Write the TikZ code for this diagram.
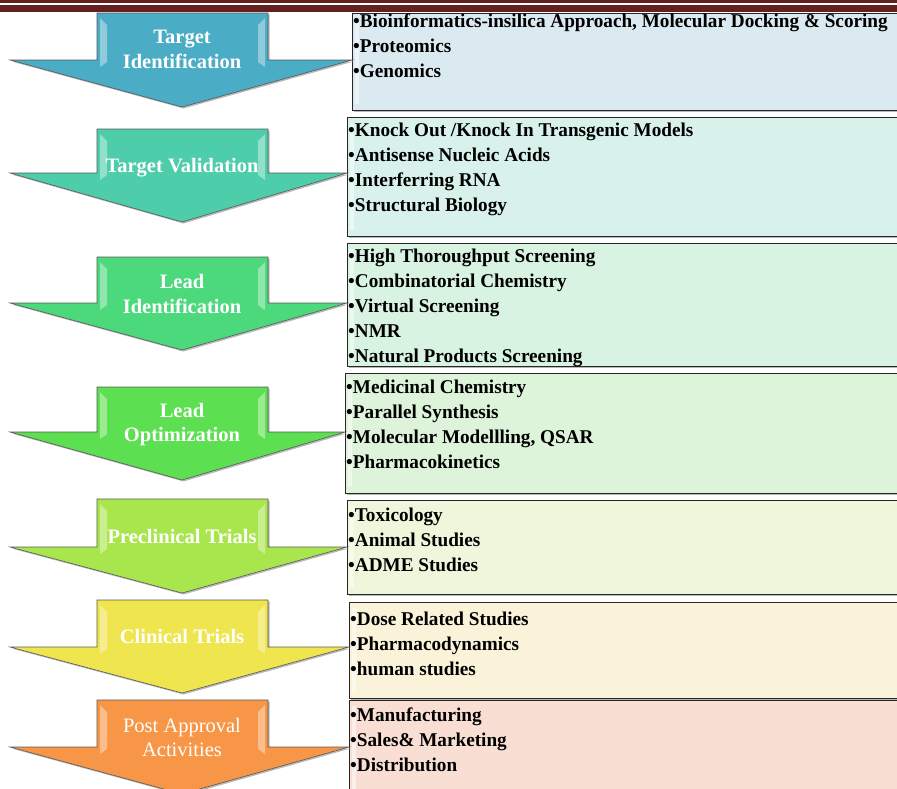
\documentclass[tikz,border=0pt]{standalone}
\usepackage{fontspec}
\setmainfont{Liberation Serif}
\newfontfamily\boxfont[FakeStretch=0.985]{Liberation Serif}
\usetikzlibrary{calc}
\definecolor{barcol}{HTML}{64201E}
\definecolor{ac1}{HTML}{4BACC6}
\definecolor{ac2}{HTML}{4DCDAA}
\definecolor{ac3}{HTML}{4CD97C}
\definecolor{ac4}{HTML}{5CDF50}
\definecolor{ac5}{HTML}{A9E64E}
\definecolor{ac6}{HTML}{EEE54F}
\definecolor{ac7}{HTML}{F79646}
\definecolor{bc1}{HTML}{DBEAF0}
\definecolor{bc2}{HTML}{D8F1EB}
\definecolor{bc3}{HTML}{D8F3E2}
\definecolor{bc4}{HTML}{DDF4DA}
\definecolor{bc5}{HTML}{EEF6DC}
\definecolor{bc6}{HTML}{FAF3D9}
\definecolor{bc7}{HTML}{F9DED4}
\tikzset{
  arrowedge/.style={draw=black!65, line width=0.6pt},
  boxframe/.style={draw=black!85, line width=1pt},
  shadowfill/.style={fill=black!28},
  glint/.style={fill=white, opacity=0.38},
  boxtext/.style={anchor=base west, inner sep=0pt, font=\boxfont\bfseries\fontsize{19.5}{25}\selectfont},
  labeltext/.style={anchor=base, text=white, inner sep=0pt, font=\bfseries\fontsize{20.5}{25}\selectfont},
  labellight/.style={anchor=base, text=white, inner sep=0pt, font=\fontsize{20.5}{25}\selectfont},
}
% #1 yt, #2 yw, #3 yp, #4 right wing x, #5 colour
\newcommand\drugarrow[5]{%
  \fill[shadowfill, shift={(1.5,1.5)}] (97,#1) -- (268,#1) -- (268,#2) -- (#4,#2) -- (182,#3) -- (10,#2) -- (97,#2) -- cycle;
  \path[fill=#5, arrowedge] (97,#1) -- (268,#1) -- (268,#2) -- (#4,#2) -- (182,#3) -- (10,#2) -- (97,#2) -- cycle;
  \fill[glint] (100,#1+5) -- (107,#1+12) -- (107,#2+2) -- (100,#2+7) -- cycle;
  \fill[glint] (265,#1+5) -- (258,#1+12) -- (258,#2+2) -- (265,#2+7) -- cycle;
}
% #1 left x, #2 top, #3 bottom, #4 colour
\newcommand\stepbox[4]{%
  \fill[shadowfill] (#1+2,#2+2) rectangle (905,#3+2);
  \path[fill=#4, boxframe] (#1,#2) rectangle (905,#3);
  \fill[white, opacity=0.5] (#1+3,#2+6) rectangle (#1+7,#3-6);
}
\begin{document}
\begin{tikzpicture}[x=1pt,y=-1pt]
\useasboundingbox (0,0) rectangle (897,788);
\clip (0,0) rectangle (897,788);
\fill[white] (0,0) rectangle (897,788);
% top rule
\fill[barcol] (0,0) rectangle (897,2.5);
\fill[barcol] (0,4.5) rectangle (897,11.5);

% boxes
\stepbox{352}{13}{110}{bc1}
\stepbox{347}{117}{236}{bc2}
\stepbox{347}{243}{366}{bc3}
\stepbox{345}{373}{493}{bc4}
\stepbox{347}{500}{594}{bc5}
\stepbox{349}{602}{698}{bc6}
\stepbox{349}{700}{800}{bc7}

% arrows
\drugarrow{13}{60}{107}{352}{ac1}
\drugarrow{129}{173}{222}{347}{ac2}
\drugarrow{257}{303}{350}{347}{ac3}
\drugarrow{387}{432}{480}{345}{ac4}
\drugarrow{499}{547}{593}{347}{ac5}
\drugarrow{600}{647}{693}{349}{ac6}
\drugarrow{700}{747}{794}{349}{ac7}

% arrow labels
\node[labeltext] (t1a) at (182,43) {Target};
\node[labeltext] (t1b) at (182,68) {Identification};
\node[labeltext] (t2) at (182,172) {Target Validation};
\node[labeltext] (t3a) at (182,288) {Lead};
\node[labeltext] (t3b) at (182,313) {Identification};
\node[labeltext] (t4a) at (182,417) {Lead};
\node[labeltext] (t4b) at (182,441) {Optimization};
\node[labeltext] (t5) at (182,543) {Preclinical Trials};
\node[labeltext] (t6) at (182,643) {Clinical Trials};
\node[labellight] (t7a) at (182,732) {Post Approval};
\node[labellight] (t7b) at (182,756) {Activities};

% box texts
\node[boxtext] (b1a) at (353,27) {\textbullet Bioinformatics-insilica Approach, Molecular Docking \& Scoring};
\node[boxtext] (b1b) at (353,52) {\textbullet Proteomics};
\node[boxtext] (b1c) at (353,77) {\textbullet Genomics};

\node[boxtext] (b2a) at (348,136) {\textbullet Knock Out /Knock In Transgenic Models};
\node[boxtext] (b2b) at (348,161) {\textbullet Antisense Nucleic Acids};
\node[boxtext] (b2c) at (348,186) {\textbullet Interferring RNA};
\node[boxtext] (b2d) at (348,211) {\textbullet Structural Biology};

\node[boxtext] (b3a) at (348,262) {\textbullet High Thoroughput Screening};
\node[boxtext] (b3b) at (348,287) {\textbullet Combinatorial Chemistry};
\node[boxtext] (b3c) at (348,312) {\textbullet Virtual Screening};
\node[boxtext] (b3d) at (348,337) {\textbullet NMR};
\node[boxtext] (b3e) at (348,362) {\textbullet Natural Products Screening};

\node[boxtext] (b4a) at (346,393) {\textbullet Medicinal Chemistry};
\node[boxtext] (b4b) at (346,418) {\textbullet Parallel Synthesis};
\node[boxtext] (b4c) at (346,443) {\textbullet Molecular Modellling, QSAR};
\node[boxtext] (b4d) at (346,468) {\textbullet Pharmacokinetics};

\node[boxtext] (b5a) at (348,521) {\textbullet Toxicology};
\node[boxtext] (b5b) at (348,546) {\textbullet Animal Studies};
\node[boxtext] (b5c) at (348,571) {\textbullet ADME Studies};

\node[boxtext] (b6a) at (350,625) {\textbullet Dose Related Studies};
\node[boxtext] (b6b) at (350,650) {\textbullet Pharmacodynamics};
\node[boxtext] (b6c) at (350,675) {\textbullet human studies};

\node[boxtext] (b7a) at (350,721) {\textbullet Manufacturing};
\node[boxtext] (b7b) at (350,746) {\textbullet Sales\& Marketing};
\node[boxtext] (b7c) at (350,771) {\textbullet Distribution};
\end{tikzpicture}
\end{document}
